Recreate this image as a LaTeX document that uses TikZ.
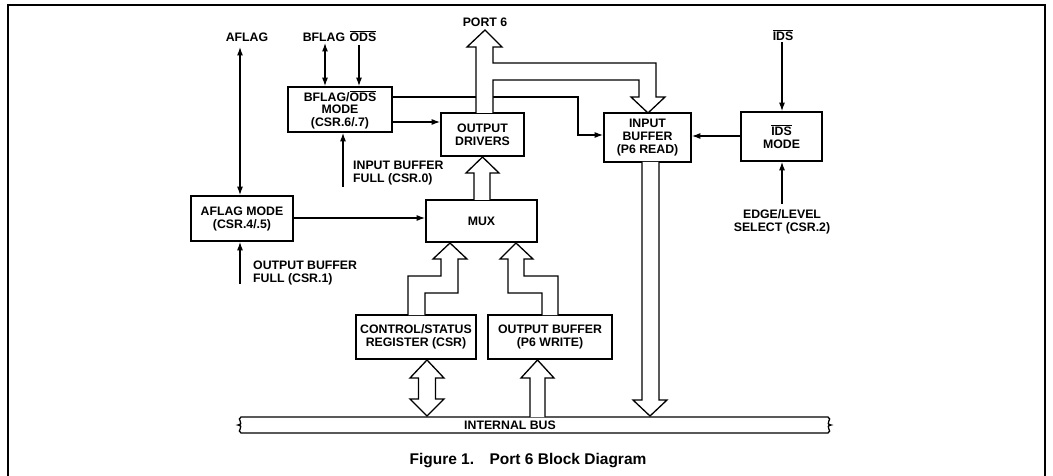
\documentclass[tikz,border=0pt]{standalone}
\usepackage{fontspec}
\setmainfont{Liberation Sans}
\usetikzlibrary{arrows.meta}
\newcommand\ovl[1]{\ensuremath{\overline{\hbox{#1}}}}
\begin{document}
\begin{tikzpicture}[x=1pt,y=-1pt,
  every node/.style={font=\fontsize{12.3}{13}\selectfont\bfseries, inner sep=0pt},
  box/.style={draw, line width=1.7pt, align=center},
  sig/.style={line width=1.2pt},
  tip/.style={-{Latex[length=8.5pt,width=6pt]}},
  dtip/.style={{Latex[length=8.5pt,width=6pt]}-{Latex[length=8.5pt,width=6pt]}},
  hollow/.style={draw, line width=1.3pt, fill=white, line join=miter},
  lbl/.style={align=left, anchor=west}]
\useasboundingbox (0,0) rectangle (1053,476);
% frame
\draw[line width=1.5pt] (8,476) -- (8,5) -- (1045,5) -- (1045,476);

% boxes
\node[box, minimum width=104pt, minimum height=45pt] (bmode) at (340,109.5) {BFLAG/\ovl{ODS}\\[-1pt]MODE\\(CSR.6/.7)};
\node[box, minimum width=83pt, minimum height=43pt] (drv) at (482.5,134.5) {OUTPUT\\DRIVERS};
\node[box, minimum width=87pt, minimum height=49pt] (inb) at (647.5,137.5) {INPUT\\BUFFER\\(P6 READ)};
\node[box, minimum width=81pt, minimum height=49pt] (idsm) at (781.5,136.5) {\ovl{IDS}\\MODE};
\node[box, minimum width=102pt, minimum height=45pt] (amode) at (242,218.5) {AFLAG MODE\\(CSR.4/.5)};
\node[box, minimum width=111pt, minimum height=42pt] (mux) at (481.5,221) {MUX};
\node[box, minimum width=120pt, minimum height=44pt] (csr) at (416,337) {CONTROL/STATUS\\REGISTER (CSR)};
\node[box, minimum width=124pt, minimum height=44pt] (obuf) at (550,337) {OUTPUT BUFFER\\(P6 WRITE)};

% labels
\node (aflag) at (247,37) {AFLAG};
\node (bft) at (324,37) {BFLAG};
\node (odst) at (363,36) {\ovl{ODS}};
\node (port) at (485,22) {PORT 6};
\node (idst) at (783,35) {\ovl{IDS}};
\node[lbl] (ibf) at (353,173) {INPUT BUFFER\\FULL (CSR.0)};
\node[lbl] (obf) at (253,272.5) {OUTPUT BUFFER\\FULL (CSR.1)};
\node[align=center] (edge) at (782,222) {EDGE/LEVEL\\SELECT (CSR.2)};

% free ends
\coordinate (aflagE) at (240,47);
\coordinate (bfE) at (325,43);
\coordinate (odsE) at (359,45);
\coordinate (ibfE) at (343,187);
\coordinate (obfE) at (240,284);
\coordinate (idsE) at (782,42);
\coordinate (edgeE) at (782,204);
\coordinate (bend) at (578,135);

% thin connectors
\draw[sig,dtip] (aflagE) -- (aflagE |- amode.north);
\draw[sig,dtip] (bfE) -- (bfE |- bmode.north);
\draw[sig,tip] (odsE) -- (odsE |- bmode.north);
\draw[sig,tip] (bmode.east |- 0,122) -- (drv.west |- 0,122);
\draw[sig,tip] (ibfE) -- (ibfE |- bmode.south);
\draw[sig,tip] (bmode.east |- 0,97) -| (bend) -- (inb.west |- bend);
\draw[sig,tip] (amode.east |- 0,218) -- (mux.west |- 0,218);
\draw[sig,tip] (obfE) -- (obfE |- amode.south);
\draw[sig,tip] (idsE) -- (idsE |- idsm.north);
\draw[sig,tip] (idsm.west |- 0,136) -- (inb.east |- 0,136);
\draw[sig,tip] (edgeE) -- (edgeE |- idsm.south);

% hollow arrows
% port 6 with branch to input buffer
\draw[hollow] (476,113) -- (476,47) -- (467,47) -- (485,30) -- (502,47) -- (493,47)
  -- (493,63) -- (656,63) -- (656,97) -- (665,97) -- (648,113) -- (631,97) -- (639,97)
  -- (639,80) -- (493,80) -- (493,113);
% mux to output drivers
\draw[hollow] (474,200) -- (474,173) -- (466,173) -- (482.5,157) -- (499,173) -- (490,173) -- (490,200);
% csr to mux
\draw[hollow] (408,315) -- (408,276) -- (441,276) -- (441,259) -- (433,259) -- (450,243)
  -- (467,259) -- (458,259) -- (458,293) -- (425,293) -- (425,315);
% output buffer to mux
\draw[hollow] (542,315) -- (542,293) -- (508,293) -- (508,259) -- (500,259) -- (516,243)
  -- (533,259) -- (524,259) -- (524,276) -- (558,276) -- (558,315);
% input buffer down to bus
\draw[hollow] (642,162) -- (642,400) -- (633,400) -- (650,416) -- (667,400) -- (659,400) -- (659,162);

% bus
\draw[line width=1.3pt, fill=white] (241,417) -- (828,417)
  .. controls (833,419) and (824,424) .. (831,425)
  .. controls (824,426) and (833,431) .. (828,433)
  -- (241,433)
  .. controls (236,431) and (245,426) .. (238,425)
  .. controls (245,424) and (236,419) .. (241,417) -- cycle;
\node (bus) at (510,425.5) {INTERNAL BUS};

% csr double arrow and output buffer arrow
\draw[hollow] (427,360) -- (444,378) -- (435.5,378) -- (435.5,399) -- (444,399) -- (427,416)
  -- (410,399) -- (418.5,399) -- (418.5,378) -- (410,378) -- cycle;
\draw[hollow] (530,417) -- (530,378) -- (521,378) -- (537.5,360) -- (554,378) -- (545,378) -- (545,417);

% caption
\node[font=\fontsize{15.5}{18}\selectfont\bfseries] (cap) at (528,461) {Figure 1.\quad Port 6 Block Diagram};
\end{tikzpicture}
\end{document}
